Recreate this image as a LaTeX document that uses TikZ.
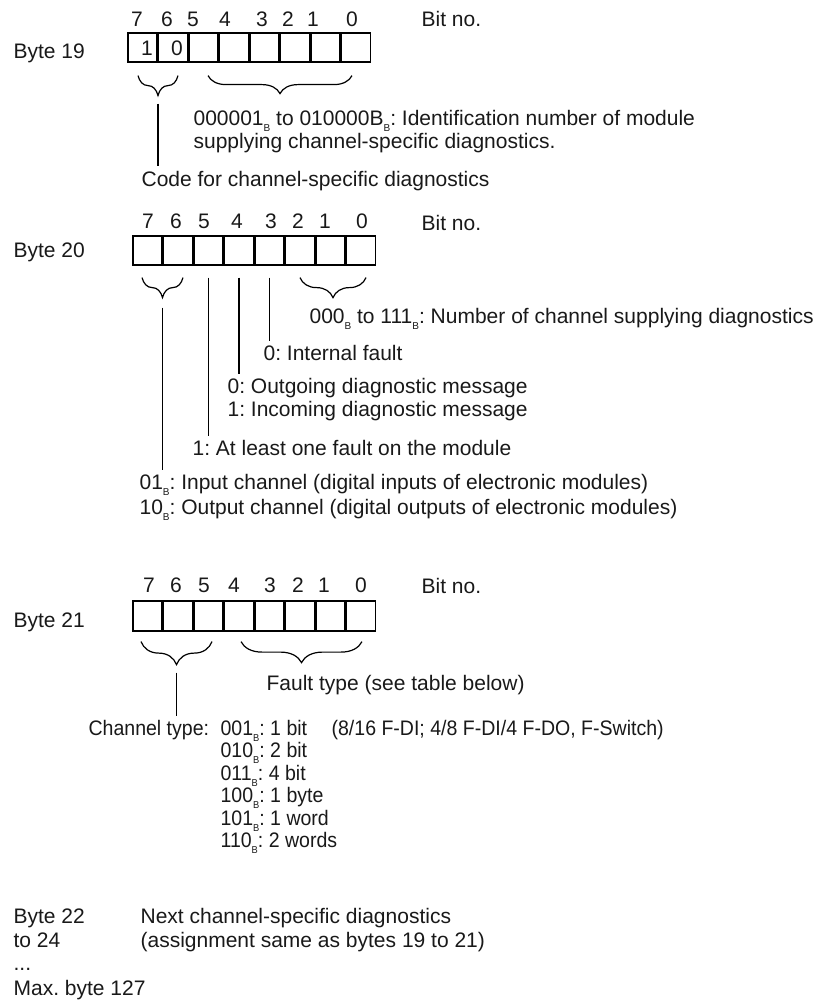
\documentclass[tikz,border=0pt]{standalone}
\usepackage{fontspec}
\setmainfont{Liberation Sans}
\newfontfamily\narrowfont[FakeStretch=0.93]{Liberation Sans}
\usetikzlibrary{decorations.pathreplacing}
\newcommand{\bsub}{\raisebox{-6pt}{\fontsize{10}{10}\selectfont B}}
\frenchspacing

\begin{document}
\begin{tikzpicture}[x=1pt,y=-1pt,line width=1.2pt,
    every node/.style={font=\fontsize{21}{23}\selectfont,text=black!90},
    bitbox/.style={draw,minimum width=29pt,minimum height=29pt,inner sep=0pt},
    lbl/.style={anchor=base west,inner xsep=0pt},
    nlbl/.style={lbl,font=\fontsize{21}{23}\narrowfont},
    bitno/.style={anchor=base},
    dnbrace/.style={decorate,decoration={brace,mirror,amplitude=#1}},
    dnbrace/.default=20pt]
    \useasboundingbox (0,0) rectangle (836,1000);

    % Byte 19
    \node[lbl] (byte19) at (13,59) {Byte 19};
    \foreach \b [count=\k from 0] in {7,...,0}{
    \node[bitbox] (b19-\b) at ({142.5+30.5*\k},47.5) {};
    }
    \foreach \b/\x in {7/137,6/167,5/193,4/225,3/262,2/288,1/313,0/352}{
    \node[bitno] (n19-\b) at (\x,27) {\b};
    }
    \node[lbl] (bitno19) at (421,27) {Bit no.};
    \node[bitno] (v19-7) at (147,56) {1};
    \node[bitno] (v19-6) at (177,56) {0};

    \draw[dnbrace] ([xshift=-4.5pt,yshift=-13pt]b19-7.south) -- node[coordinate,below=28pt] (t19a) {} ([xshift=5pt,yshift=-13pt]b19-6.south);
    \draw[dnbrace=18pt] ([xshift=4.5pt,yshift=-13pt]b19-5.south) -- ([xshift=-4pt,yshift=-13pt]b19-0.south);

    \node[lbl] (ident1) at (193,126) {000001\bsub{} to 010000B\bsub: Identification number of module};
    \node[lbl] (ident2) at (193,149) {supplying channel-specific diagnostics.};
    \node[lbl] (code) at (141,187) {Code for channel-specific diagnostics};
    \draw (t19a) -- ([yshift=2pt]t19a |- code.north);

    % Byte 20
    \node[lbl] (byte20) at (13,258) {Byte 20};
    \foreach \b [count=\k from 0] in {7,...,0}{
    \node[bitbox] (b20-\b) at ({147.5+30.5*\k},250.5) {};
    }
    \foreach \b/\x in {7/148,6/176,5/204,4/237,3/271,2/298,1/325,0/362}{
    \node[bitno] (n20-\b) at (\x,229) {\b};
    }
    \node[lbl] (bitno20) at (421,230) {Bit no.};

    \draw[dnbrace] ([xshift=-5.5pt,yshift=-12pt]b20-7.south) -- node[coordinate,below=30pt] (t20a) {} ([xshift=5pt,yshift=-12pt]b20-6.south);
    \draw[dnbrace] ([yshift=-12pt]b20-2.south) -- ([xshift=5pt,yshift=-12pt]b20-0.south);

    \node[lbl] (chnum) at (309,323) {000\bsub{} to 111\bsub: Number of channel supplying diagnostics};
    \node[lbl] (internal) at (263,360) {0: Internal fault};
    \node[lbl] (outgoing) at (227,393) {0: Outgoing diagnostic message};
    \node[lbl] (incoming) at (227,416) {1: Incoming diagnostic message};
    \node[lbl] (onefault) at (192,455) {1: At least one fault on the module};
    \node[lbl] (inch) at (139,489) {01\bsub: Input channel (digital inputs of electronic modules)};
    \node[lbl] (outch) at (139,514) {10\bsub: Output channel (digital outputs of electronic modules)};

    \draw ([yshift=-12pt]b20-3.south) -- (b20-3.south |- internal.north);
    \draw ([yshift=-12pt]b20-4.south) -- (b20-4.south |- outgoing.north);
    \draw ([yshift=-12pt]b20-5.south) -- (b20-5.south |- onefault.north);
    \draw (t20a) -- (t20a |- inch.north);

    % Byte 21
    \node[lbl] (byte21) at (13,627) {Byte 21};
    \foreach \b [count=\k from 0] in {7,...,0}{
    \node[bitbox,minimum height=30pt] (b21-\b) at ({147.5+30.5*\k},616) {};
    }
    \foreach \b/\x in {7/149,6/176,5/204,4/234,3/270,2/298,1/324,0/361}{
    \node[bitno] (n21-\b) at (\x,592) {\b};
    }
    \node[lbl] (bitno21) at (421,593) {Bit no.};

    \draw[dnbrace=23pt] ([xshift=-6.5pt,yshift=-10pt]b21-7.south) -- node[coordinate,below=31pt] (t21a) {} ([xshift=3.5pt,yshift=-10pt]b21-5.south);
    \draw[dnbrace=21pt] ([xshift=2pt,yshift=-10pt]b21-4.south) -- ([xshift=1pt,yshift=-10pt]b21-0.south);

    \node[lbl] (faulttype) at (266,690) {Fault type (see table below)};
    \node[nlbl] (chtype) at (88,735) {Channel type:};
    \foreach \cv/\cw [count=\n from 0] in {001/1 bit,010/2 bit,011/4 bit,100/1 byte,101/1 word,110/2 words}{
    \node[nlbl] (ct\cv) at (220,{735+22.5*\n}) {\cv\bsub: \cw};
    }
    \node[nlbl] (fdi) at (331,735) {(8/16 F-DI; 4/8 F-DI/4 F-DO, F-Switch)};
    \draw (t21a) -- (t21a |- chtype.north);

    % Following bytes
    \node[lbl] (byte22) at (13,923) {Byte 22};
    \node[lbl] (to24) at (13,947) {to 24};
    \node[lbl] (dots) at (13,970) {...};
    \node[lbl] (maxbyte) at (13,995) {Max. byte 127};
    \node[lbl] (nextdiag) at (140,923) {Next channel-specific diagnostics};
    \node[lbl] (assign) at (140,947) {(assignment same as bytes 19 to 21)};
\end{tikzpicture}
\end{document}
